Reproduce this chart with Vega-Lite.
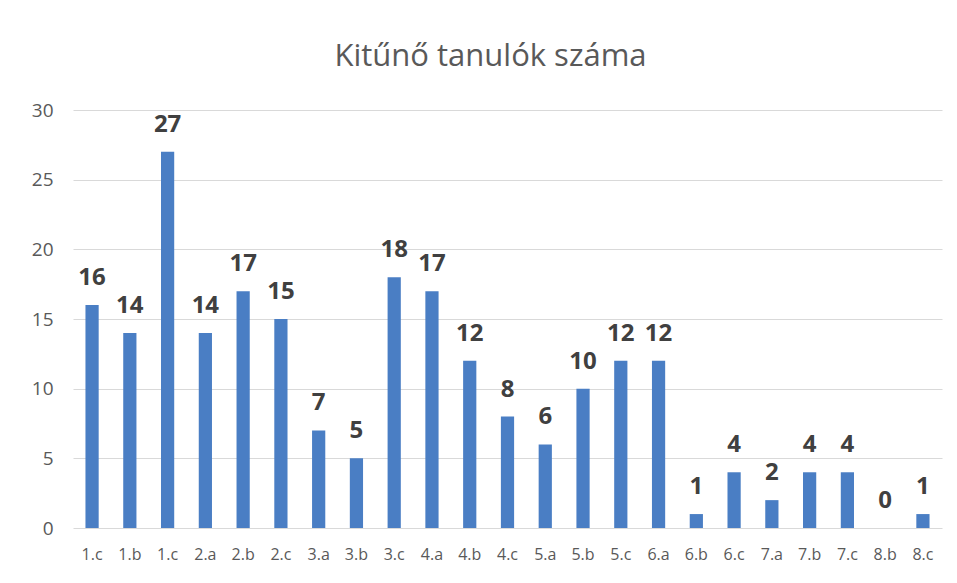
{
  "$schema": "https://vega.github.io/schema/vega-lite/v6.json",
  "width": 869,
  "height": 418,
  "autosize": {"type": "none"},
  "padding": {"left": 73, "top": 110, "right": 15, "bottom": 55},
  "background": "white",
  "title": {
    "text": "Kitűnő tanulók száma",
    "font": "Open Sans",
    "fontSize": 31,
    "fontWeight": "normal",
    "color": "#595959",
    "anchor": "middle",
    "offset": 28,
    "dx": -17
  },
  "data": {
    "values": [
      {"osztaly": "1.c", "db": 16},
      {"osztaly": "1.b", "db": 14},
      {"osztaly": "1.c ", "db": 27},
      {"osztaly": "2.a", "db": 14},
      {"osztaly": "2.b", "db": 17},
      {"osztaly": "2.c", "db": 15},
      {"osztaly": "3.a", "db": 7},
      {"osztaly": "3.b", "db": 5},
      {"osztaly": "3.c", "db": 18},
      {"osztaly": "4.a", "db": 17},
      {"osztaly": "4.b", "db": 12},
      {"osztaly": "4.c", "db": 8},
      {"osztaly": "5.a", "db": 6},
      {"osztaly": "5.b", "db": 10},
      {"osztaly": "5.c", "db": 12},
      {"osztaly": "6.a", "db": 12},
      {"osztaly": "6.b", "db": 1},
      {"osztaly": "6.c", "db": 4},
      {"osztaly": "7.a", "db": 2},
      {"osztaly": "7.b", "db": 4},
      {"osztaly": "7.c", "db": 4},
      {"osztaly": "8.b", "db": 0},
      {"osztaly": "8.c", "db": 1}
    ]
  },
  "encoding": {
    "x": {
      "field": "osztaly",
      "type": "nominal",
      "sort": null,
      "scale": {"paddingInner": 0.65, "paddingOuter": 0.33},
      "axis": {
        "title": null,
        "labelAngle": 0,
        "labelFont": "Open Sans",
        "labelFontSize": 16,
        "labelColor": "#595959",
        "labelPadding": 18,
        "ticks": false,
        "domain": false,
        "grid": false
      }
    },
    "y": {
      "field": "db",
      "type": "quantitative",
      "scale": {"domain": [0, 30], "nice": false},
      "axis": {
        "title": null,
        "values": [0, 5, 10, 15, 20, 25, 30],
        "labelFont": "Open Sans",
        "labelFontSize": 19,
        "labelColor": "#595959",
        "labelPadding": 20,
        "ticks": false,
        "domain": false,
        "gridColor": "#d9d9d9",
        "gridWidth": 1
      }
    }
  },
  "layer": [
    {"mark": {"type": "bar", "color": "#4a7ec4"}},
    {
      "mark": {
        "type": "text",
        "font": "Open Sans",
        "fontSize": 24,
        "fontWeight": "bold",
        "color": "#404040",
        "baseline": "alphabetic",
        "dy": -20
      },
      "encoding": {"text": {"field": "db", "type": "quantitative"}}
    }
  ],
  "config": {"view": {"stroke": null}}
}
